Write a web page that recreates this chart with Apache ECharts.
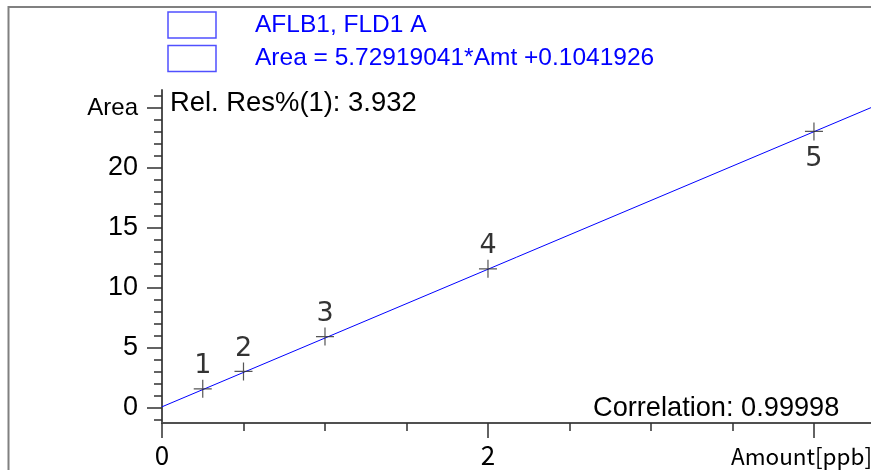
<!DOCTYPE html>
<html>
<head>
<meta charset="utf-8">
<script src="https://cdn.jsdelivr.net/npm/echarts@6/dist/echarts.min.js"></script>
<style>html,body{margin:0;padding:0;background:#fff;}#c{width:871px;height:470px;}</style>
</head>
<body>
<div id="c"></div>
<script>
// Calibration levels
const levelNames = ['1', '2', '3', '4', '5'];
const amounts = [0.25, 0.5, 1, 2, 4];
const areas = [1.6, 3.05, 5.95, 11.6, 23.05];
// Fitted calibration line end points
const fitX = [0, 4.35];
const fitY = [0.10, 25.03];
// Axis ticks
const yMajorTicks = [0, 5, 10, 15, 20, 25];
const yMinorTicks = [-1, 0, 1, 2, 3, 4, 5, 6, 7, 8, 9, 10, 11, 12, 13, 14, 15, 16, 17, 18, 19, 20, 21, 22, 23, 24, 25, 26];
const xMajorTicks = [0, 2, 4];
const xLabelTicks = [0, 2];
const xMinorTicks = [0.5, 1, 1.5, 2.5, 3, 3.5];
// Texts
const legendTitle = 'AFLB1, FLD1 A';
const legendFormula = 'Area = 5.72919041*Amt +0.1041926';
const relResText = 'Rel. Res%(1): 3.932';
const correlationText = 'Correlation: 0.99998';
const xAxisName = 'Amount[ppb]';
const yAxisName = 'Area';

const chart = echarts.init(document.getElementById('c'), null, {renderer: 'canvas'});
const AX = '#505050';
const TK = '#303030';
const SANS = '"Liberation Sans", Arial, sans-serif';
const JP = '"Noto Sans CJK JP", sans-serif';

const option = {
  animation: false,
  backgroundColor: '#fff',
  grid: {left: 162, right: 0, top: 90, bottom: 47, containLabel: false},
  xAxis: [
    {
      type: 'value', min: 0, max: 4.35,
      axisLine: {show: true, onZero: false, lineStyle: {color: AX, width: 2}},
      axisTick: {show: true, customValues: xMajorTicks, length: 15, lineStyle: {color: TK, width: 1.5}},
      axisLabel: {show: true, customValues: xLabelTicks, margin: 19, color: '#000', fontFamily: JP, fontSize: 26},
      splitLine: {show: false}
    },
    {
      type: 'value', min: 0, max: 4.35, position: 'bottom',
      axisLine: {show: false, onZero: false},
      axisTick: {show: true, customValues: xMinorTicks, length: 8, lineStyle: {color: TK, width: 1.5}},
      axisLabel: {show: false},
      splitLine: {show: false}
    }
  ],
  yAxis: [
    {
      type: 'value', min: -1.25, max: 26.5,
      axisLine: {show: true, onZero: false, lineStyle: {color: AX, width: 2}},
      axisTick: {show: true, customValues: yMajorTicks, length: 15, lineStyle: {color: TK, width: 1.5}},
      axisLabel: {
        show: true, customValues: yMajorTicks, margin: 24, color: '#000',
        fontFamily: SANS, fontSize: 27,
        formatter: v => (v === 25 ? '{a|' + yAxisName + '}' : String(v)),
        rich: {a: {fontFamily: SANS, fontSize: 24, color: '#000'}}
      },
      splitLine: {show: false}
    },
    {
      type: 'value', min: -1.25, max: 26.5, position: 'left',
      axisLine: {show: false, onZero: false},
      axisTick: {show: true, customValues: yMinorTicks, length: 8, lineStyle: {color: TK, width: 1.5}},
      axisLabel: {show: false},
      splitLine: {show: false}
    }
  ],
  series: [
    {
      type: 'line',
      xAxisIndex: 0, yAxisIndex: 0,
      data: fitX.map((x, i) => [x, fitY[i]]),
      symbol: 'none',
      lineStyle: {color: '#0000ff', width: 1},
      silent: true, z: 2
    },
    {
      type: 'scatter',
      xAxisIndex: 0, yAxisIndex: 0,
      symbol: 'path://M0,8.4h18v1.2h-18z M8.4,0h1.2v18h-1.2z',
      symbolSize: 18,
      itemStyle: {color: '#2a2a2a'},
      label: {
        show: true, color: '#000', fontFamily: '"DejaVu Sans", sans-serif', fontSize: 27,
        formatter: p => levelNames[p.dataIndex]
      },
      data: amounts.map((x, i) => ({
        value: [x, areas[i]],
        label: i === amounts.length - 1 ? {position: 'bottom', distance: 5} : {position: 'top', distance: 0}
      })),
      z: 3
    }
  ],
  graphic: [
    {type: 'line', shape: {x1: 8, y1: 7, x2: 871, y2: 7}, style: {stroke: '#808080', lineWidth: 2}, silent: true},
    {type: 'line', shape: {x1: 8.5, y1: 6, x2: 8.5, y2: 470}, style: {stroke: '#808080', lineWidth: 2}, silent: true},
    {type: 'rect', shape: {x: 168, y: 12, width: 48, height: 26}, style: {fill: 'none', stroke: '#5050ff', lineWidth: 1.5}, silent: true},
    {type: 'rect', shape: {x: 168, y: 45.5, width: 48, height: 26}, style: {fill: 'none', stroke: '#5050ff', lineWidth: 1.5}, silent: true},
    {type: 'text', x: 255, y: 25, style: {text: legendTitle, font: '24.5px ' + SANS, fill: '#0000ff', verticalAlign: 'middle'}, silent: true},
    {type: 'text', x: 255, y: 58, style: {text: legendFormula, font: '24.5px ' + SANS, fill: '#0000ff', verticalAlign: 'middle'}, silent: true},
    {type: 'text', x: 170, y: 103, style: {text: relResText, font: '27.4px ' + SANS, fill: '#000', verticalAlign: 'middle'}, silent: true},
    {type: 'text', x: 593, y: 408.5, style: {text: correlationText, font: '27.2px ' + SANS, fill: '#000', verticalAlign: 'middle'}, silent: true},
    {type: 'text', x: 731, y: 456, style: {text: xAxisName, font: '22.5px ' + JP, fill: '#000', verticalAlign: 'middle'}, silent: true}
  ]
};
chart.setOption(option);
</script>
</body>
</html>
